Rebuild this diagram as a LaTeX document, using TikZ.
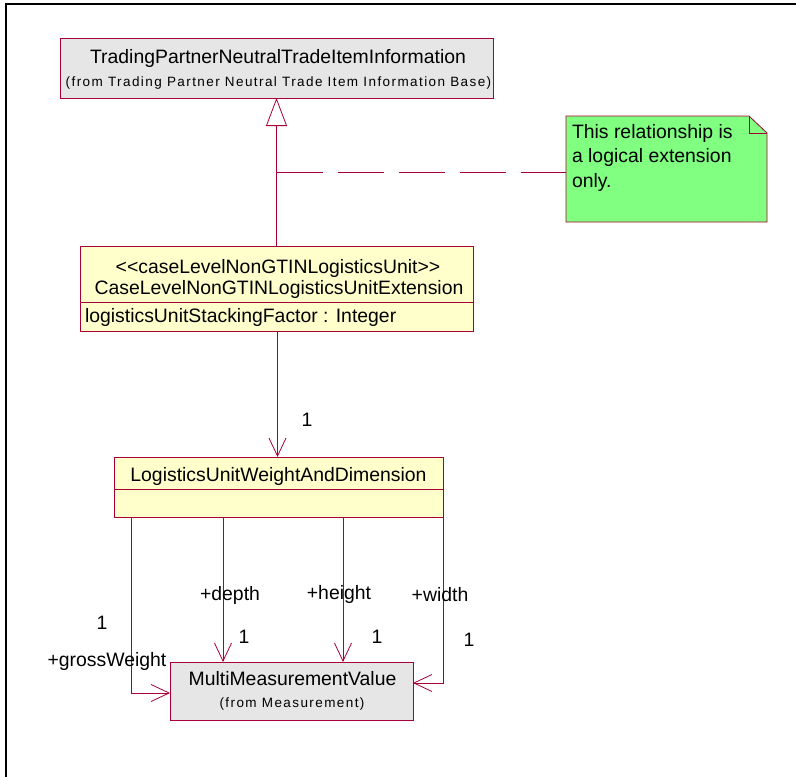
\documentclass[tikz,border=0pt]{standalone}
\usepackage{fontspec}
\setmainfont{Liberation Sans}
\newfontfamily\smallfam[LetterSpace=10.5]{Liberation Sans}
\usetikzlibrary{arrows.meta,calc}
\definecolor{umlred}{RGB}{168,0,54}
\definecolor{umlgrey}{RGB}{230,230,230}
\definecolor{umlyellow}{RGB}{255,255,204}
\definecolor{notegreen}{RGB}{128,255,128}
\begin{document}
\begin{tikzpicture}[x=1pt,y=-1pt,
  box/.style={draw=umlred, line width=0.8pt, inner sep=0pt, outer sep=0pt},
  txt/.style={inner sep=0pt, outer sep=0pt, font=\fontsize{19.4}{23}\selectfont, anchor=base},
  subtxt/.style={inner sep=0pt, outer sep=0pt, font=\smallfam\fontsize{13.5}{16}\selectfont, anchor=base},
  conn/.style={draw=umlred, line width=0.8pt},
  nav/.style={conn, -{Straight Barb[length=18pt,width=17pt]}}]
\useasboundingbox (0,0) rectangle (796,777);
\draw[line width=2pt] (796,4) -- (6,4) -- (6,777);

% top class
\node[box, fill=umlgrey, minimum width=433pt, minimum height=60pt] (tp) at (276.5,68) {};
\node[txt] (tpname) at (278,63) {TradingPartnerNeutralTradeItemInformation};
\node[subtxt] (tpfrom) at (278.5,86) {(from Trading Partner Neutral Trade Item Information Base)};

% case level class
\node[box, fill=umlyellow, minimum width=393pt, minimum height=85pt] (cl) at (276.5,288.5) {};
\coordinate (cldiv) at (0,302);
\draw[conn] (cl.west |- cldiv) -- (cl.east |- cldiv);
\node[txt] (clst) at (278,273) {<{}<caseLevelNonGTINLogisticsUnit>{}>};
\node[txt] (clname) at (279,294) {CaseLevelNonGTINLogisticsUnitExtension};
\node[txt, anchor=base west] (clattr) at (85,322) {logisticsUnitStackingFactor : Integer};

% logistics unit weight
\node[box, fill=umlyellow, minimum width=329pt, minimum height=60pt] (luw) at (278.5,487) {};
\coordinate (luwdiv) at (0,489);
\draw[conn] (luw.west |- luwdiv) -- (luw.east |- luwdiv);
\node[txt] (luwname) at (278.5,481) {LogisticsUnitWeightAndDimension};

% multi measurement value
\node[box, fill=umlgrey, minimum width=243pt, minimum height=58pt] (mmv) at (291.5,691) {};
\node[txt] (mmvname) at (292.5,685) {MultiMeasurementValue};
\node[subtxt] (mmvfrom) at (292,707) {(from Measurement)};

% note
\node[inner sep=0pt, outer sep=0pt, minimum width=201pt, minimum height=106pt] (note) at (666.5,169) {};
\fill[notegreen] (note.north west) -- ($(note.north east)+(-18,0)$) -- ($(note.north east)+(0,17)$) -- (note.south east) -- (note.south west) -- cycle;
\draw[conn] (note.north west) -- ($(note.north east)+(-18,0)$) -- ($(note.north east)+(0,17)$) -- (note.south east) -- (note.south west) -- cycle;
\draw[conn] ($(note.north east)+(-18,0)$) -- ($(note.north east)+(-18,17)$) -- ($(note.north east)+(0,17)$);
\node[txt, anchor=base west] (n1) at (572,138) {This relationship is};
\node[txt, anchor=base west] (n2) at (572,162.5) {a logical extension};
\node[txt, anchor=base west] (n3) at (572,187) {only.};

% generalization
\draw[conn, -{Triangle[open,length=28pt,width=21pt]}] (cl.north) -- (tp.south);
\coordinate (gj) at (277,172);
\draw[conn, dash pattern=on 46pt off 15pt] (gj) -- (note.west |- gj);

% association to LUW
\coordinate (ax) at (277.5,0);
\draw[nav] (cl.south -| ax) -- (luw.north -| ax);
\node[txt] (one0) at (307,426) {1};

% associations to MMV
\coordinate (gx) at (131,0);
\coordinate (gy) at (0,693);
\coordinate (dx) at (223,0);
\coordinate (hx) at (343,0);
\coordinate (wx) at (443,0);
\coordinate (wy) at (0,683);
\draw[nav] (luw.south -| gx) |- (mmv.west |- gy);
\draw[nav] (luw.south -| dx) -- (mmv.north -| dx);
\draw[nav] (luw.south -| hx) -- (mmv.north -| hx);
\draw[nav] (luw.south -| wx) |- (mmv.east |- wy);

\node[txt] (lgw) at (107,666) {+grossWeight};
\node[txt] (ogw) at (102,629) {1};
\node[txt] (ld) at (230,600) {+depth};
\node[txt] (od) at (244,643) {1};
\node[txt] (lh) at (339,599) {+height};
\node[txt] (oh) at (377,643) {1};
\node[txt] (lw) at (440,601) {+width};
\node[txt] (ow) at (469,646) {1};
\end{tikzpicture}
\end{document}
